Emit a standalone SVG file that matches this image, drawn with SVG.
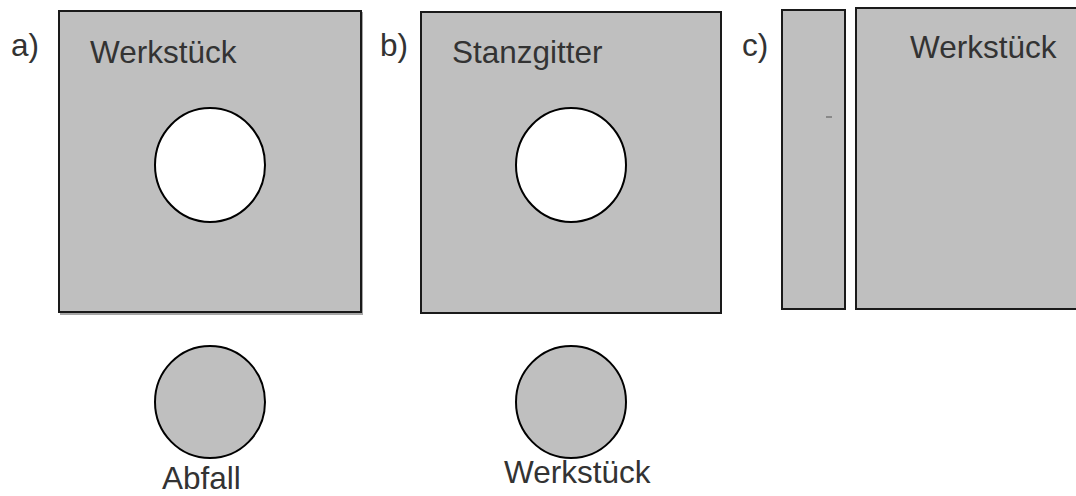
<svg xmlns="http://www.w3.org/2000/svg" width="1076" height="496" viewBox="0 0 1076 496">
<style>
.sheet{fill:#bfbfbf;stroke:#1a1a1a;stroke-width:2}
.hole{fill:#fff;stroke:#000;stroke-width:2}
.disc{fill:#bfbfbf;stroke:#000;stroke-width:2}
.lbl{font-family:"Liberation Sans",Arial,sans-serif;font-size:31.5px;fill:#333}
.shadow{fill:#a6a6a6}
</style>
<rect width="1076" height="496" fill="#fff"/>
<g id="panel-a">
<text class="lbl" x="11" y="56">a)</text>
<rect class="shadow" x="60" y="12" width="303" height="303"/>
<rect class="sheet" x="59" y="11" width="302" height="301"/>
<text class="lbl" x="90" y="63">Werkstück</text>
<ellipse class="hole" cx="210" cy="165" rx="55" ry="57"/>
</g>
<g id="abfall">
<ellipse class="disc" cx="210" cy="402" rx="55" ry="56"/>
<text class="lbl" x="162" y="489">Abfall</text>
</g>
<g id="panel-b">
<text class="lbl" x="380" y="56">b)</text>
<rect class="sheet" x="421" y="12" width="300" height="301"/>
<text class="lbl" x="452" y="63">Stanzgitter</text>
<ellipse class="hole" cx="571" cy="165" rx="55" ry="57"/>
</g>
<g id="werkstueck-b">
<ellipse class="disc" cx="571" cy="402" rx="55" ry="56"/>
<text class="lbl" x="504" y="483">Werkstück</text>
</g>
<g id="panel-c">
<text class="lbl" x="742" y="56">c)</text>
<rect class="sheet" x="782" y="10" width="63" height="299"/>
<rect class="sheet" x="856" y="8" width="225" height="301"/>
<text class="lbl" x="910" y="58">Werkstück</text>
<line x1="826" y1="117" x2="832" y2="117" stroke="#777" stroke-width="1.5"/>
</g>
</svg>
